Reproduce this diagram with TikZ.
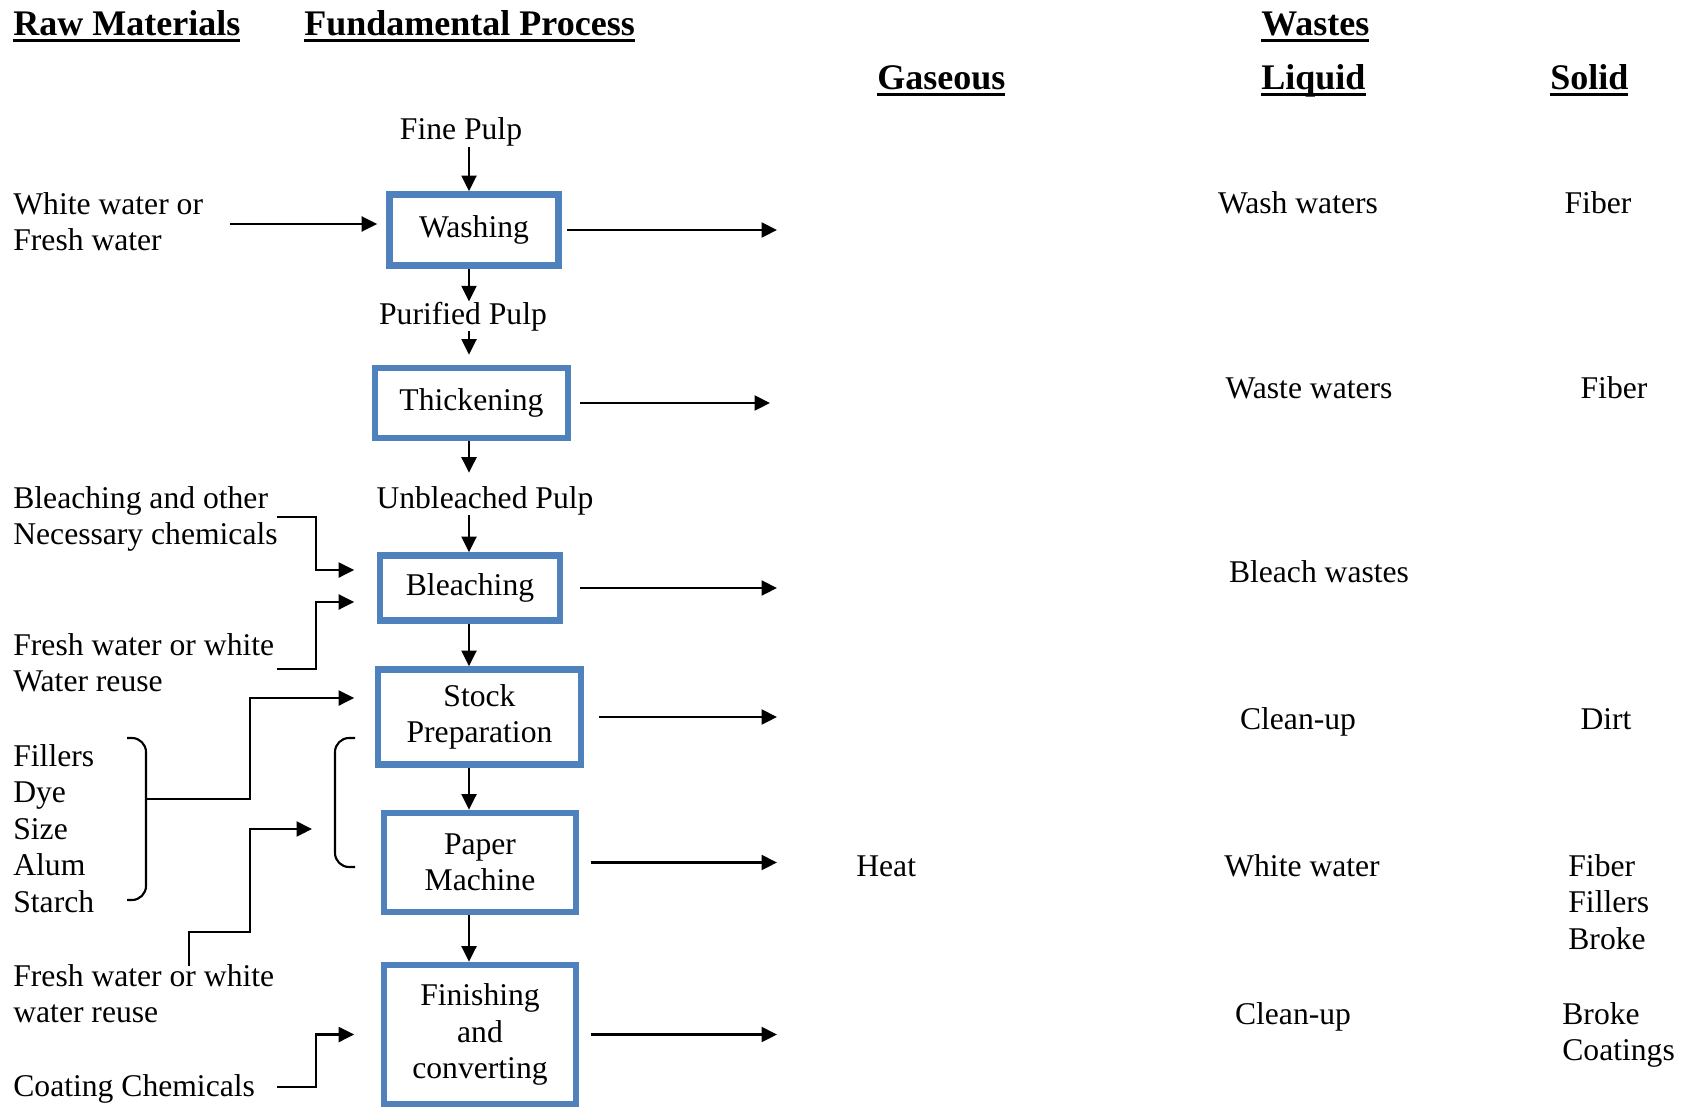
\documentclass[tikz,border=0pt]{standalone}
\usepackage{fontspec}
\setmainfont{Liberation Serif}
\usepackage{xcolor}
\usepackage{tikz}
\usetikzlibrary{arrows.meta, positioning, calc}
\definecolor{boxblue}{RGB}{79,129,189}
\definecolor{mydark}{RGB}{0,0,0}
\newcommand{\hdul}[1]{\setbox0\hbox{#1}\rlap{\rule[-0.12cm]{\wd0}{0.06cm}}\box0}
\tikzset{
  procbox/.style={rectangle, draw=boxblue, line width=3.8pt, align=center,
    inner sep=0pt, font=\fontsize{18}{20.8}\selectfont},
  txt/.style={inner sep=0pt, align=left, font=\fontsize{18}{20.8}\selectfont},
  hdr/.style={inner sep=0pt, font=\fontsize{20.5}{24}\selectfont\bfseries},
  arrow/.style={-{Triangle[length=0.31cm,width=0.3cm]}, line width=1.2pt, color=mydark},
  line/.style={line width=1.2pt, color=mydark}
}
\begin{document}
\begin{tikzpicture}[x=0.02cm, y=-0.02cm]
  \useasboundingbox (0,0) rectangle (1686,1108);

  % headings
  \node[hdr, anchor=base west] (hraw)  at (13,36)   {\hdul{Raw Materials}};
  \node[hdr, anchor=base west] (hproc) at (304,36)  {\hdul{Fundamental Process}};
  \node[hdr, anchor=base west] (hwst)  at (1261,36) {\hdul{Wastes}};
  \node[hdr, anchor=base west] (hgas)  at (877,90)  {\hdul{Gaseous}};
  \node[hdr, anchor=base west] (hliq)  at (1261,90) {\hdul{Liquid}};
  \node[hdr, anchor=base west] (hsol)  at (1550,90) {\hdul{Solid}};

  % process column
  \node[procbox, minimum width=3.38cm, minimum height=1.42cm] (wash)   at (474,230)   {Washing};
  \node[procbox, minimum width=3.86cm, minimum height=1.40cm] (thick)  at (471.5,403) {Thickening};
  \node[procbox, minimum width=3.60cm, minimum height=1.30cm] (bleach) at (470,588)   {Bleaching};
  \node[procbox, minimum width=4.06cm, minimum height=1.90cm] (stock)  at (479.5,717) {Stock\\Preparation};
  \node[procbox, minimum width=3.84cm, minimum height=1.98cm] (paper)  at (480,862.5) {Paper\\Machine};
  \node[procbox, minimum width=3.84cm, minimum height=2.78cm] (finish) at (480,1034.5) {Finishing\\and\\converting};

  \node[txt, anchor=base] (fp) at (461,140) {Fine Pulp};
  \node[txt, anchor=base] (pp) at (463,324) {Purified Pulp};
  \node[txt, anchor=base] (ub) at (485,508) {Unbleached Pulp};

  \coordinate (spine) at (469,0);
  \coordinate (outx)  at (777,0);

  \draw[arrow] (fp.south -| spine) -- (wash.north -| spine);
  \draw[arrow] (wash.south -| spine) -- (pp.north -| spine);
  \draw[arrow, shorten >=0.2cm] (pp.south -| spine) -- (thick.north -| spine);
  \draw[arrow, shorten >=0.26cm] (thick.south -| spine) -- (ub.north -| spine);
  \draw[arrow] (ub.south -| spine) -- (bleach.north -| spine);
  \draw[arrow] (bleach.south -| spine) -- (stock.north -| spine);
  \draw[arrow] (stock.south -| spine) -- (paper.north -| spine);
  \draw[arrow] (paper.south -| spine) -- (finish.north -| spine);

  % outputs to the waste columns
  \draw[arrow, shorten <=0.1cm]  (wash.east)   -- (wash.east -| outx);
  \draw[arrow, shorten <=0.17cm, shorten >=0.14cm] (thick.east) -- (thick.east -| outx);
  \draw[arrow, shorten <=0.33cm] (bleach.east) -- (bleach.east -| outx);
  \draw[arrow, shorten <=0.29cm] (stock.east)  -- (stock.east -| outx);
  \draw[arrow, shorten <=0.23cm] (paper.east)  -- (paper.east -| outx);
  \draw[arrow, shorten <=0.23cm] (finish.east) -- (finish.east -| outx);

  % raw materials (base = last line)
  \node[txt, anchor=base west] (ww)    at (13,250.6)  {White water or\\Fresh water};
  \node[txt, anchor=base west] (bchem) at (13,544.6)  {Bleaching and other\\Necessary chemicals};
  \node[txt, anchor=base west] (fw1)   at (13,691.6)  {Fresh water or white\\Water reuse};
  \node[txt, anchor=base west] (add)   at (13,912.4)  {Fillers\\Dye\\Size\\Alum\\Starch};
  \node[txt, anchor=base west] (fw2)   at (13,1022.6) {Fresh water or white\\water reuse};
  \node[txt, anchor=base west] (coat)  at (13,1096)   {Coating Chemicals};

  \coordinate (ww-in)  at (230,224);
  \coordinate (bc-in)  at (277,517);
  \coordinate (fw1-in) at (277,669);
  \coordinate (brace)  at (146,799);
  \coordinate (fw2-in) at (189,966);
  \coordinate (fw2-tip) at (312,829);
  \coordinate (cc-in)  at (277,1087);

  \draw[arrow, shorten >=0.18cm] (ww-in) -- (ww-in -| wash.west);
  \draw[arrow, shorten >=0.45cm] (bc-in) -- ++(39,0) |- ([yshift=0.36cm]bleach.west);
  \draw[arrow, shorten >=0.45cm] (fw1-in) -- ++(39,0) |- ([yshift=-0.28cm]bleach.west);
  \draw[line, rounded corners=8pt] (127,738) -- (146,738) -- (146,900) -- (127,900);
  \draw[arrow, shorten >=0.41cm] (brace) -- ++(104,0) |- ([yshift=0.38cm]stock.west);
  \draw[line, rounded corners=8pt] (355,738) -- (335,738) -- (335,867) -- (355,867);
  \draw[arrow] (fw2-in) -- ++(0,-34) -- ++(61,0) |- (fw2-tip);
  \draw[arrow, shorten >=0.53cm] (cc-in) -- ++(39,0) |- (finish.west);

  % wastes
  \node[txt, anchor=base west] (heat) at (856,876) {Heat};
  \node[txt, anchor=base] (liq1) at (1298,214)  {Wash waters};
  \node[txt, anchor=base] (liq2) at (1309,398)  {Waste waters};
  \node[txt, anchor=base] (liq3) at (1319,582)  {Bleach wastes};
  \node[txt, anchor=base] (liq4) at (1298,729)  {Clean-up};
  \node[txt, anchor=base] (liq5) at (1302,876)  {White water};
  \node[txt, anchor=base] (liq6) at (1293,1024) {Clean-up};
  \node[txt, anchor=base] (sol1) at (1598,214)  {Fiber};
  \node[txt, anchor=base] (sol2) at (1614,398)  {Fiber};
  \node[txt, anchor=base] (sol4) at (1606,729)  {Dirt};
  \node[txt, anchor=base west] (sol5) at (1568,949.2)  {Fiber\\Fillers\\Broke};
  \node[txt, anchor=base west] (sol6) at (1562,1060.6) {Broke\\Coatings};
\end{tikzpicture}
\end{document}
